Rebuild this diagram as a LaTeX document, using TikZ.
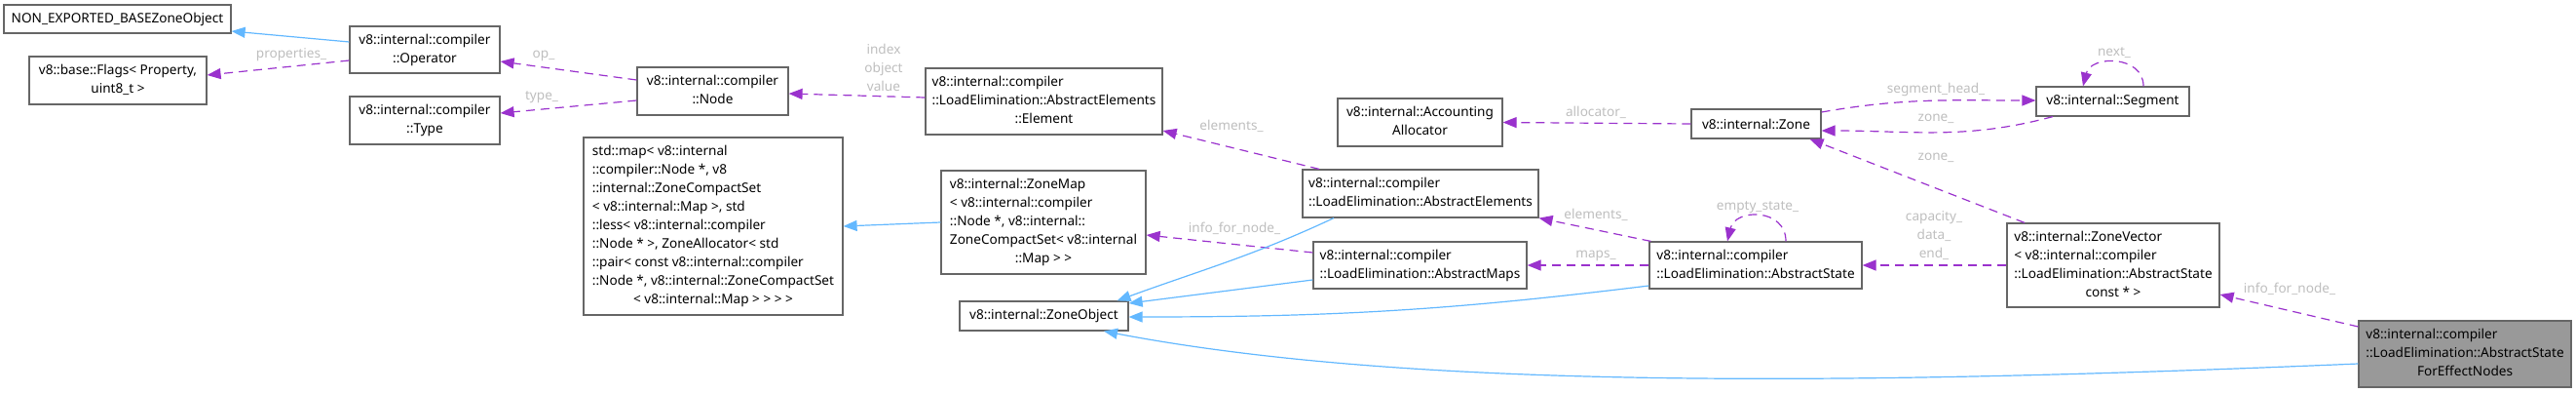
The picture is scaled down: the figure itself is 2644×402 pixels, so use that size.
\documentclass[tikz,border=0pt]{standalone}
\usepackage{fontspec}
\setmainfont{Noto Sans}
\usetikzlibrary{positioning, arrows.meta}
\definecolor{edgepurple}{HTML}{9A32CD}
\definecolor{edgeblue}{HTML}{63B8FF}
\definecolor{boxgray}{HTML}{666666}
\definecolor{fillgray}{HTML}{999999}
\definecolor{labelgray}{HTML}{BEBEBE}
\newcommand{\boxtext}[1]{\begin{tabular}{@{}l@{}}#1\end{tabular}}
\newcommand{\lastline}[1]{\multicolumn{1}{@{}c@{}}{#1}}
\tikzset{
  klass/.style={draw=boxgray, line width=1.2pt, fill=white, inner sep=0pt,
    font=\fontsize{13.6}{19}\selectfont},
  member/.style={draw=edgepurple, line width=1.2pt, dash pattern=on 9pt off 6pt,
    -{Triangle[length=14pt,width=11pt]}},
  base/.style={draw=edgeblue, line width=1.2pt, -{Triangle[length=14pt,width=11pt]}},
  lbl/.style={text=labelgray, inner sep=0pt, align=center,
    font=\fontsize{13.6}{19}\selectfont},
}

\begin{document}
\begin{tikzpicture}[x=1pt, y=-1pt]
\useasboundingbox (0,0) rectangle (2644,402);
\node[klass, minimum width=233, minimum height=29] at (120.5,19.5) (nonexp) {NON\_EXPORTED\_BASEZoneObject};
\node[klass, minimum width=182, minimum height=49] at (121,82.5) (flags) {\boxtext{v8::base::Flags< Property,\\ \lastline{uint8\_t >}}};
\node[klass, minimum width=154, minimum height=48] at (436,51) (operator) {\boxtext{v8::internal::compiler\\ \lastline{::Operator}}};
\node[klass, minimum width=154, minimum height=49] at (436,123.5) (type) {\boxtext{v8::internal::compiler\\ \lastline{::Type}}};
\node[klass, minimum width=155, minimum height=49] at (731.5,93.5) (cnode) {\boxtext{v8::internal::compiler\\ \lastline{::Node}}};
\node[klass, minimum width=266, minimum height=182] at (732,232) (stdmap) {\boxtext{std::map< v8::internal\\ ::compiler::Node *, v8\\ ::internal::ZoneCompactSet\\ < v8::internal::Map >, std\\ ::less< v8::internal::compiler\\ ::Node * >, ZoneAllocator< std\\ ::pair< const v8::internal::compiler\\ ::Node *, v8::internal::ZoneCompactSet\\ \lastline{< v8::internal::Map > > > >}}};
\node[klass, minimum width=243, minimum height=68] at (1071.5,104) (element) {\boxtext{v8::internal::compiler\\ ::LoadElimination::AbstractElements\\ \lastline{::Element}}};
\node[klass, minimum width=210, minimum height=106] at (1071,228) (zonemap) {\boxtext{v8::internal::ZoneMap\\ < v8::internal::compiler\\ ::Node *, v8::internal::\\ ZoneCompactSet< v8::internal\\ \lastline{::Map > >}}};
\node[klass, minimum width=173, minimum height=30] at (1071.5,324) (zobj) {v8::internal::ZoneObject};
\node[klass, minimum width=169, minimum height=49] at (1457.5,125.5) (accalloc) {\boxtext{v8::internal::Accounting\\ \lastline{Allocator}}};
\node[klass, minimum width=242, minimum height=49] at (1458,198.5) (absel) {\boxtext{v8::internal::compiler\\ \lastline{::LoadElimination::AbstractElements}}};
\node[klass, minimum width=219, minimum height=48] at (1457.5,272) (absmaps) {\boxtext{v8::internal::compiler\\ \lastline{::LoadElimination::AbstractMaps}}};
\node[klass, minimum width=133, minimum height=30] at (1802.5,127) (zone) {v8::internal::Zone};
\node[klass, minimum width=218, minimum height=48] at (1802,272) (absstate) {\boxtext{v8::internal::compiler\\ \lastline{::LoadElimination::AbstractState}}};
\node[klass, minimum width=157, minimum height=30] at (2168.5,104) (segment) {v8::internal::Segment};
\node[klass, minimum width=218, minimum height=86] at (2169,272) (zonevec) {\boxtext{v8::internal::ZoneVector\\ < v8::internal::compiler\\ ::LoadElimination::AbstractState\\ \lastline{const * >}}};
\node[klass, fill=fillgray, minimum width=218, minimum height=68] at (2530,363) (foreffect) {\boxtext{v8::internal::compiler\\ ::LoadElimination::AbstractState\\ \lastline{ForEffectNodes}}};

\draw[base] ([yshift=8pt]operator.west) -- ([yshift=-12.5pt]nonexp.east);
\draw[member] ([yshift=-11pt]operator.west) -- ([yshift=5.5pt]flags.east);
\draw[member] ([yshift=11.5pt]cnode.west) -- ([yshift=-12pt]operator.east);
\draw[member] ([yshift=-9.5pt]cnode.west) -- ([yshift=7.5pt]type.east);
\draw[member] ([yshift=4pt]element.west) -- ([yshift=-2.5pt]cnode.east);
\draw[base] (zonemap.west) -- (stdmap.east);
\draw[member] ([yshift=13pt]absmaps.west) -- ([yshift=-13pt]zonemap.east);
\draw[member] ([xshift=-104pt]absel.north) -- ([yshift=-30pt]element.east);
\draw[base] ([xshift=-89pt]absel.south) to[out=205,in=20] ([xshift=75pt]zobj.north);
\draw[base] ([yshift=-15pt]absmaps.west) -- ([yshift=13pt]zobj.east);
\draw[base] ([yshift=-21pt]absstate.west) to[out=187,in=0] ([yshift=-1pt]zobj.east);
\draw[base] ([yshift=-10pt]foreffect.west) .. controls (1900,395) and (1450,400) .. ([xshift=61.5pt]zobj.south);
\draw[member] ([xshift=2pt]absstate.north west) -- (absel.south east);
\draw[member] (absstate.west) -- (absmaps.east);
\draw[member] ([xshift=31pt]absstate.north) .. controls +(0,-34) and +(8,-34) .. ([xshift=-29pt]absstate.north);
\draw[member] (zonevec.west) -- (absstate.east);
\draw[member] ([xshift=-91pt]zonevec.north) -- ([xshift=55pt]zone.south);
\draw[member] (zone.west) -- (accalloc.east);
\draw[member] ([yshift=12pt]zone.east) to[out=10,in=180] ([yshift=1pt]segment.west);
\draw[member] ([xshift=-61.5pt]segment.south) to[out=195,in=0] ([yshift=-7pt]zone.east);
\draw[member] ([xshift=31.5pt]segment.north) .. controls +(0,-32) and +(8,-32) .. ([xshift=-30.5pt]segment.north);
\draw[member] ([yshift=28pt]foreffect.west) -- ([yshift=-30pt]zonevec.east);

\node[lbl] at (299,56) (lprop) {properties\_};
\node[lbl] at (558,57) (lop) {op\_};
\node[lbl] at (556,100) (ltype) {type\_};
\node[lbl] at (907,69) (lindex) {index\\object\\value};
\node[lbl] at (1267,234) (linfomap) {info\_for\_node\_};
\node[lbl] at (1264,129) (lelem) {elements\_};
\node[lbl] at (1638,220) (lelems) {elements\_};
\node[lbl] at (1638,262) (lmaps) {maps\_};
\node[lbl] at (1804,213) (lempty) {empty\_state\_};
\node[lbl] at (1985,242) (lcap) {capacity\_\\data\_\\end\_};
\node[lbl] at (1987,162) (lzonevec) {zone\_};
\node[lbl] at (1638,115) (lalloc) {allocator\_};
\node[lbl] at (1987,92) (lseghead) {segment\_head\_};
\node[lbl] at (1987,122) (lzoneseg) {zone\_};
\node[lbl] at (2170,54) (lnext) {next\_};
\node[lbl] at (2350,296) (linfovec) {info\_for\_node\_};
\end{tikzpicture}
\end{document}
